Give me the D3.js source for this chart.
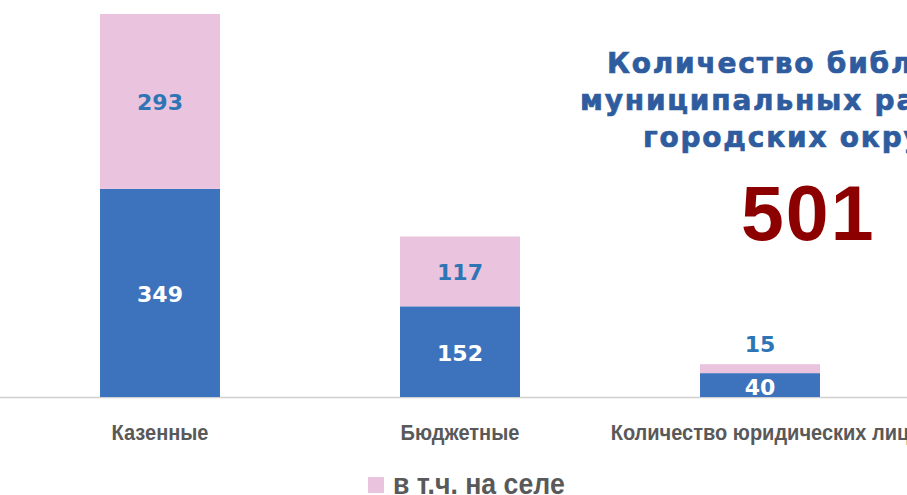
<!DOCTYPE html>
<html><head><meta charset="utf-8">
<script src="https://cdn.jsdelivr.net/npm/d3@7"></script>
<style>body{margin:0;background:#fff;}svg{display:block;font-family:"Liberation Sans",Arial,sans-serif;}</style>
</head><body>
<svg id="c" width="907" height="495"></svg>
<script>
const categories = ["Казенные", "Бюджетные", "Количество юридических лиц"];
const totalValues = [349, 152, 40];
const ruralValues = [293, 117, 15];
const titleLines = ["Количество библиотек", "муниципальных районов и", "городских округов"];
const bigNumber = "501";
const legendLabel = "в т.ч. на селе";

const svg = d3.select("#c");
const blue = "#3D73BD", pink = "#EAC4DE";
const wide = "'DejaVu Sans',Verdana,sans-serif";
const x = d3.scaleBand().domain(categories).range([10, 910]).paddingInner(0.6).paddingOuter(0.3);
const y = d3.scaleLinear().domain([0, 642]).range([397, 14]);

svg.append("line").attr("x1", 0).attr("x2", 907).attr("y1", 397.5).attr("y2", 397.5)
  .attr("stroke", "#D0D0D0").attr("stroke-width", 1.3);

const data = categories.map((c, i) => ({c, a: totalValues[i], b: ruralValues[i]}));
const g = svg.append("g");
g.selectAll(".a").data(data).join("rect")
  .attr("x", d => x(d.c)).attr("width", x.bandwidth())
  .attr("y", d => y(d.a)).attr("height", d => y(0) - y(d.a)).attr("fill", blue);
g.selectAll(".b").data(data).join("rect")
  .attr("x", d => x(d.c)).attr("width", x.bandwidth())
  .attr("y", d => y(d.a + d.b)).attr("height", d => y(d.a) - y(d.a + d.b)).attr("fill", pink);

g.selectAll(".la").data(data).join("text")
  .attr("x", d => x(d.c) + x.bandwidth() / 2)
  .attr("y", (d, i) => i === 2 ? y(0) - 2 : (y(0) + y(d.a)) / 2 + 9)
  .attr("text-anchor", "middle").attr("font-family", wide).attr("font-weight", "bold").attr("font-size", 22)
  .attr("fill", "#fff").text(d => d.a);
g.selectAll(".lb").data(data).join("text")
  .attr("x", d => x(d.c) + x.bandwidth() / 2)
  .attr("y", (d, i) => i === 2 ? y(d.a + d.b) - 12 : (y(d.a) + y(d.a + d.b)) / 2 + 9)
  .attr("text-anchor", "middle").attr("font-family", wide).attr("font-weight", "bold").attr("font-size", 22)
  .attr("fill", "#2E75B6").text(d => d.b);

svg.append("g").selectAll("text").data(categories).join("text")
  .attr("transform", d => `translate(${x(d) + x.bandwidth() / 2},440) scale(0.91,1)`)
  .attr("text-anchor", "middle").attr("font-weight", "bold").attr("font-size", 22)
  .attr("fill", "#595959").text(d => d);

const tx = [607, 580, 643], ty = [73, 110, 147];
svg.append("g").selectAll("text").data(titleLines).join("text")
  .attr("x", (d, i) => tx[i]).attr("y", (d, i) => ty[i]).attr("font-family", wide)
  .attr("font-weight", "bold").attr("font-size", 28).attr("fill", "#2E5C9E")
  .attr("stroke", "#2E5C9E").attr("stroke-width", 0.7)
  .attr("letter-spacing", 1.8).text(d => d);
svg.append("text").attr("x", 741).attr("y", 240).attr("font-weight", "bold")
  .attr("font-size", 77).attr("letter-spacing", 2).attr("fill", "#8C0000").text(bigNumber);

svg.append("rect").attr("x", 368).attr("y", 477).attr("width", 16).attr("height", 16).attr("fill", pink);
svg.append("text").attr("transform", "translate(393,494) scale(0.89,1)")
  .attr("font-weight", "bold").attr("font-size", 30)
  .attr("fill", "#595959").text(legendLabel);
</script>
</body></html>
